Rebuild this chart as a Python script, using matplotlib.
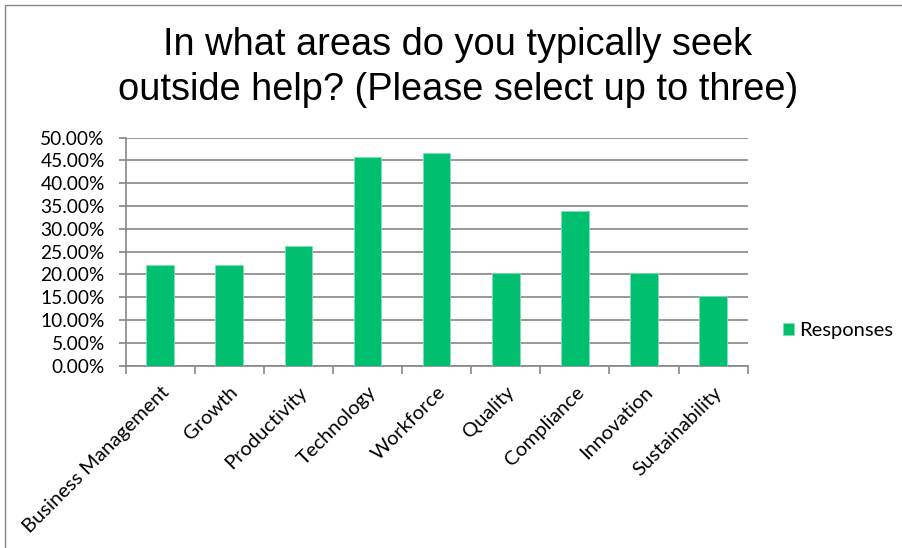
import matplotlib.pyplot as plt
from matplotlib.patches import Rectangle
from matplotlib.ticker import FuncFormatter, MultipleLocator

areas = ["Business Management", "Growth", "Productivity", "Technology", "Workforce",
         "Quality", "Compliance", "Innovation", "Sustainability"]
responses = [22.0, 22.0, 26.3, 45.8, 46.6, 20.4, 33.9, 20.4, 15.3]

fig = plt.figure(figsize=(9.03, 5.48), dpi=100)
ax = fig.add_axes([0.139, 0.333, 0.689, 0.416])

x = list(range(len(areas)))
ax.bar(x, responses, width=0.4, color="#00BF6F", edgecolor="#7FE0B5", linewidth=0.6,
       label="Responses", zorder=3)

ax.set_xlim(-0.5, len(areas) - 0.5)
ax.set_ylim(0, 50)
ax.yaxis.set_major_locator(MultipleLocator(5))
ax.yaxis.set_major_formatter(FuncFormatter(lambda v, p: f"{v:.2f}%"))
ax.grid(axis="y", color="#868686", linewidth=1.2, zorder=0)

# ticks between the categories on x
ax.set_xticks([i - 0.5 for i in range(len(areas) + 1)])
ax.set_xticklabels([])
ax.set_xticks(x, minor=True)
ax.set_xticklabels(areas, minor=True, rotation=45, ha="right", rotation_mode="anchor",
                   fontsize=14.5, family="Lato")
ax.tick_params(axis="x", which="minor", length=0, pad=13)
ax.tick_params(axis="x", which="major", length=6, width=1.2, color="#868686")
ax.tick_params(axis="y", length=5, width=1.2, color="#868686", labelsize=13.8, pad=10)
for lab in ax.get_yticklabels():
    lab.set_family("Lato")

for side in ["top", "right"]:
    ax.spines[side].set_visible(False)
for side in ["left", "bottom"]:
    ax.spines[side].set_color("#868686")
    ax.spines[side].set_linewidth(1.2)

fig.text(0.507, 0.877, "In what areas do you typically seek\noutside help? (Please select up to three)",
         ha="center", va="center", fontsize=27.4, family="Liberation Sans", linespacing=1.33)

ax.legend(loc="center left", bbox_to_anchor=(1.057, 0.152), frameon=False,
          borderaxespad=0, borderpad=0,
          prop={"family": "Lato", "size": 14.5}, handlelength=0.55, handleheight=0.55,
          handletextpad=0.25)

fig.patches.append(Rectangle((0.006, -0.01), 1.0, 1.0, transform=fig.transFigure,
                             fill=False, edgecolor="#868686", linewidth=1.0))

fig.savefig("out.png", dpi=100)
